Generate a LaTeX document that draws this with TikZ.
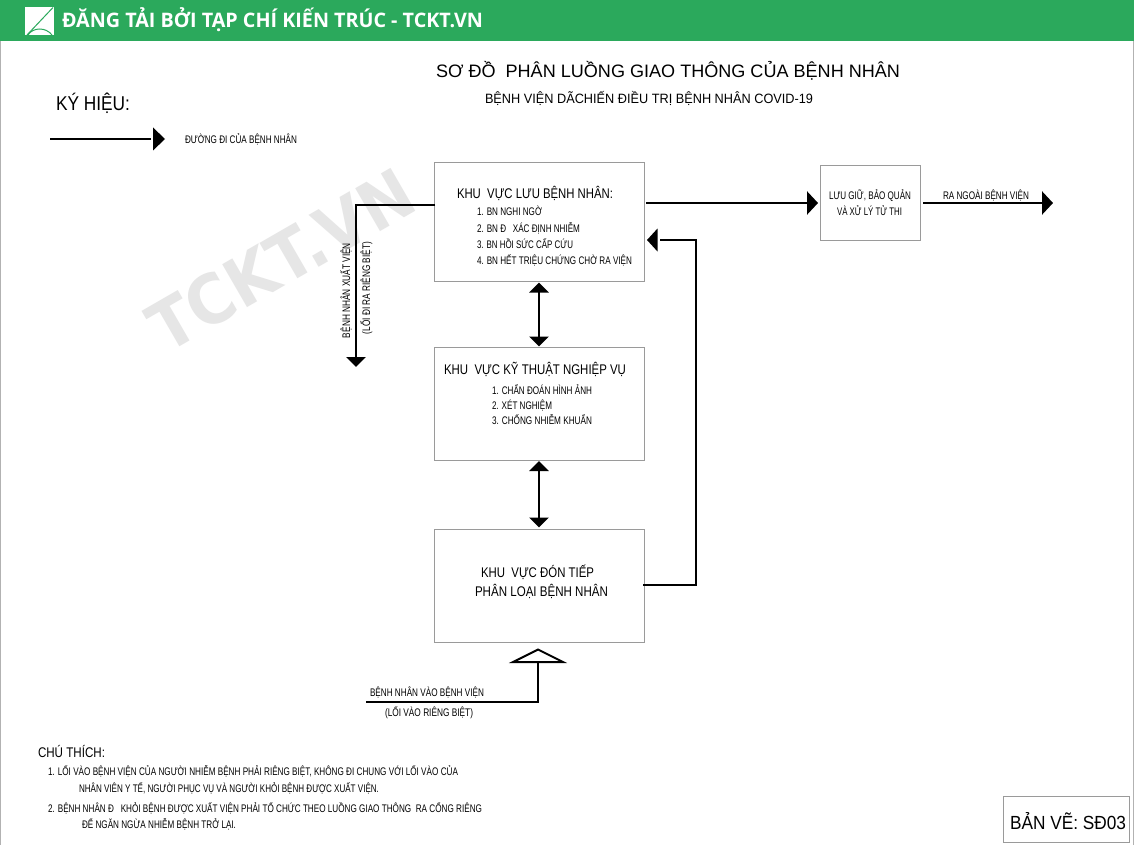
\documentclass[tikz,border=0pt]{standalone}
\usepackage{fontspec}
\usepackage{graphicx}
\usetikzlibrary{arrows.meta}
\setmainfont{Liberation Sans}
\newfontfamily\bannerfont{Open Sans}
\newfontfamily\markfont{DejaVu Sans}
\definecolor{bannergreen}{HTML}{2BA95C}
\definecolor{boxgray}{HTML}{9A9A9A}
\definecolor{markgray}{HTML}{E6E6E6}
\newcommand{\W}[2]{\resizebox{#1pt}{\height}{#2}}
\newcommand{\fs}[1]{\fontsize{#1pt}{#1pt}\selectfont}
\tikzset{
  txt/.style={inner sep=0pt,outer sep=0pt,anchor=base west,text=black},
  vtxt/.style={txt,rotate=90},
  boxarea/.style={draw=boxgray,line width=0.9pt,fill=white},
  flow/.style={line width=2.6pt,draw=black,line cap=butt},
  bigtip/.style={-{Triangle[length=11pt,width=23pt]}},
  dbltip/.style={{Triangle[length=10pt,width=19pt]}-{Triangle[length=10pt,width=19pt]}},
  smalltip/.style={-{Triangle[length=10pt,width=19pt]}}
}
\begin{document}
\begin{tikzpicture}[x=1pt,y=-1pt]
\useasboundingbox (0,0) rectangle (1134,845);
\fill[white] (0,0) rectangle (1134,845);
% banner
\fill[bannergreen] (0,0) rectangle (1134,41);
\draw[gray!60,line width=0.6pt] (0.3,41) -- (0.3,845);
\draw[gray!60,line width=0.6pt] (1133.7,41) -- (1133.7,845);
\fill[white] (25,7) -- (54,7) -- (54,35.5) -- (25,35.5) -- cycle;
\draw[bannergreen,line width=1pt] (27,35) -- (53,7.5);
\draw[bannergreen,line width=1pt] (28,35) .. controls (33,27) and (46,27) .. (52,35);
\node[txt,text=white] (bannertext) at (62,28) {\W{421}{\bannerfont\bfseries\fs{20}ĐĂNG TẢI BỞI TẠP CHÍ KIẾN TRÚC - TCKT.VN}};
% watermark
\node[inner sep=0pt,rotate=30,text=markgray] (watermark) at (281,260) {\W{294}{\markfont\bfseries\fs{68}TCKT.VN}};
% titles
\node[txt] (title) at (436,78) {\W{464}{\fs{18}SƠ ĐỒ\ \ PHÂN LUỒNG GIAO THÔNG CỦA BỆNH NHÂN}};
\node[txt] (subtitle) at (485,104) {\W{328}{\fs{13.5}BỆNH VIỆN DÃCHIẾN ĐIỀU TRỊ BỆNH NHÂN COVID-19}};
\node[txt] (legendhead) at (56,111) {\W{74}{\fs{20}KÝ HIỆU:}};
\coordinate (legA) at (50,139);
\coordinate (legB) at (150.5,139);
\draw[flow] (legA) -- (legB);
\fill[black] (165,139) -- (153,127.5) -- (153,150.5) -- cycle;
\node[txt] (legendtext) at (185,143) {\W{112}{\fs{11}ĐƯỜNG ĐI CỦA BỆNH NHÂN}};
% boxes
\node[boxarea,minimum width=210pt,minimum height=119pt,inner sep=0pt] (luu) at (539.5,222) {};
\node[boxarea,minimum width=210pt,minimum height=113pt,inner sep=0pt] (kt) at (539.5,403.5) {};
\node[boxarea,minimum width=210pt,minimum height=113pt,inner sep=0pt] (don) at (539.5,586) {};
\node[boxarea,minimum width=100pt,minimum height=75pt,inner sep=0pt] (tuthi) at (870.5,203) {};
\node[boxarea,minimum width=126pt,minimum height=46pt,inner sep=0pt] (banve) at (1066,819) {};
% box 1 text
\node[txt] (luuh) at (457,198) {\W{156}{\fs{14}KHU\ \ VỰC LƯU BỆNH NHÂN:}};
\node[txt] (luu1) at (477,215.5) {\W{65}{\fs{11}1. BN NGHI NGỜ}};
\node[txt] (luu2) at (477,232) {\W{103}{\fs{11}2. BN Đ\ \ \ XÁC ĐỊNH NHIỄM}};
\node[txt] (luu3) at (477,248) {\W{96}{\fs{11}3. BN HỒI SỨC CẤP CỨU}};
\node[txt] (luu4) at (477,264) {\W{155}{\fs{11}4. BN HẾT TRIỆU CHỨNG CHỜ RA VIỆN}};
% box 2 text
\node[txt] (kth) at (444,374) {\W{182}{\fs{14}KHU\ \ VỰC KỸ THUẬT NGHIỆP VỤ}};
\node[txt] (kt1) at (492,394) {\W{100}{\fs{11}1. CHẨN ĐOÁN HÌNH ẢNH}};
\node[txt] (kt2) at (492,409) {\W{60}{\fs{11}2. XÉT NGHIỆM}};
\node[txt] (kt3) at (492,424) {\W{100}{\fs{11}3. CHỐNG NHIỄM KHUẨN}};
% box 3 text
\node[txt] (don1) at (481,577) {\W{113}{\fs{14}KHU\ \ VỰC ĐÓN TIẾP}};
\node[txt] (don2) at (475,596) {\W{133}{\fs{14}PHÂN LOẠI BỆNH NHÂN}};
% box 4 text
\node[txt] (tt1) at (829,199) {\W{82}{\fs{11}LƯU GIỮ, BẢO QUẢN}};
\node[txt] (tt2) at (837,215) {\W{65}{\fs{11}VÀ XỬ LÝ TỬ THI}};
\node[txt] (rangoai) at (943,200) {\W{86}{\fs{11}RA NGOÀI BỆNH VIỆN}};
% vertical labels
\node[vtxt] (xv1) at (350,338) {\W{95}{\fs{11}BỆNH NHÂN XUẤT VIỆN}};
\node[vtxt] (xv2) at (370,334) {\W{92}{\fs{11}(LỐI ĐI RA RIÊNG BIỆT)}};
% entry labels
\node[txt] (vao1) at (370,696) {\W{114}{\fs{11}BỆNH NHÂN VÀO BỆNH VIỆN}};
\node[txt] (vao2) at (385,716) {\W{88}{\fs{11}(LỐI VÀO RIÊNG BIỆT)}};
% notes
\node[txt] (nh) at (38,757) {\W{67}{\fs{14}CHÚ THÍCH:}};
\node[txt] (n1) at (48,775) {\W{410}{\fs{11}1. LỐI VÀO BỆNH VIỆN CỦA NGƯỜI NHIỄM BỆNH PHẢI RIÊNG BIỆT, KHÔNG ĐI CHUNG VỚI LỐI VÀO CỦA}};
\node[txt] (n2) at (79,792) {\W{300}{\fs{11}NHÂN VIÊN Y TẾ, NGƯỜI PHỤC VỤ VÀ NGƯỜI KHỎI BỆNH ĐƯỢC XUẤT VIỆN.}};
\node[txt] (n3) at (48,812) {\W{434}{\fs{11}2. BỆNH NHÂN Đ\ \ \ KHỎI BỆNH ĐƯỢC XUẤT VIỆN PHẢI TỔ CHỨC THEO LUỒNG GIAO THÔNG\ \ RA CỔNG RIÊNG}};
\node[txt] (n4) at (82,828) {\W{154}{\fs{11}ĐỂ NGĂN NGỪA NHIỄM BỆNH TRỞ LẠI.}};
\node[txt] (bv) at (1010,829) {\W{116}{\fs{19}BẢN VẼ: SĐ03}};
% connectors
\coordinate (outA) at (646,203);
\coordinate (outB) at (818,203);
\draw[flow,bigtip] (outA) -- (outB);
\coordinate (extA) at (923,203);
\coordinate (extB) at (1053,203);
\draw[flow,bigtip] (extA) -- (extB);
\coordinate (retA) at (643,585);
\coordinate (retB) at (696,585);
\coordinate (retC) at (696,240);
\coordinate (retD) at (660,240);
\draw[flow,line width=2.8pt,line join=miter] (retA) -- (retB) -- (retC) -- (retD);
\fill[black] (647,240) -- (657.5,228.5) -- (657.5,251.5) -- cycle;
\coordinate (exitA) at (435,205);
\coordinate (exitB) at (356,205);
\coordinate (exitC) at (356,367);
\draw[flow,smalltip,line join=miter] (exitA) -- (exitB) -- (exitC);
\draw[flow,dbltip] (539,282.5) -- (539,346.5);
\draw[flow,dbltip] (539,461) -- (539,527.5);
\coordinate (entA) at (366,702);
\coordinate (entB) at (538,702);
\coordinate (entC) at (538,662);
\draw[flow,line join=miter] (entA) -- (entB) -- (entC);
\draw[black,line width=2pt,line join=miter,fill=white] (538,649.5) -- (563,662) -- (513,662) -- cycle;
\end{tikzpicture}
\end{document}
